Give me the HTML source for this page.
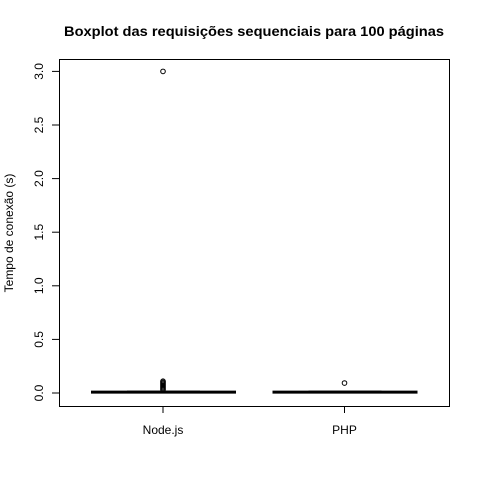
<!DOCTYPE html>
<html><head><meta charset="utf-8"><style>body{margin:0;background:#fff}svg{display:block;font-family:"Liberation Sans",sans-serif}</style></head>
<body>
<svg id="c" width="480" height="480">
<text x="254" y="36" text-anchor="middle" font-weight="bold" font-size="14" textLength="380" lengthAdjust="spacingAndGlyphs">Boxplot das requisições sequenciais para 100 páginas</text>
<rect x="59.5" y="59.5" width="390" height="347" fill="none" stroke="#000"/>
<text transform="translate(13,233) rotate(-90)" text-anchor="middle" font-size="12">Tempo de conexão (s)</text>
<g id="g"></g>
</svg>
<script>
const categories=["Node.js","PHP"];
const whiskLo=[0.0,0.0];
const q1=[0.005,0.005];
const median=[0.008,0.008];
const q3=[0.022,0.022];
const whiskHi=[0.01,0.01];
const outliers=[[3.0,0.11,0.10,0.09,0.08,0.07,0.06,0.05,0.04,0.03],[0.093]];
const yTicks=[0,0.5,1,1.5,2,2.5,3];
const yTickLabels=["0.0","0.5","1.0","1.5","2.0","2.5","3.0"];
const NS="http://www.w3.org/2000/svg",g=document.getElementById('g');
const y=v=>393-v*107.2;
const x=i=>163+i*181.5;
function mk(t,a){const e=document.createElementNS(NS,t);for(const k in a)e.setAttribute(k,a[k]);g.appendChild(e);return e;}
mk('line',{x1:59.5,x2:59.5,y1:y(0),y2:y(3),stroke:'#000'});
yTicks.forEach((v,i)=>{
 const t=mk('line',{x1:52,x2:59.5,y1:y(v),y2:y(v),stroke:'#000'});
 
 
 const l=mk('text',{transform:`translate(43,${y(v)}) rotate(-90)`,'text-anchor':'middle','font-size':12});
 l.textContent=yTickLabels[i];
 
 
});
categories.forEach((c,i)=>{
 const cx=x(i);
 const t=mk('line',{x1:cx,x2:cx,y1:406,y2:413,stroke:'#000'});
 
 
 const l=mk('text',{x:cx,y:434,'text-anchor':'middle','font-size':12});
 l.textContent=c;
 
 
 const w=mk('line',{x1:cx-72,x2:cx+73,y1:y(median[i]),y2:y(median[i]),stroke:'#000','stroke-width':3});
 
 
 const b=mk('rect',{x:cx-36,width:73,y:y(q3[i]),height:Math.max(1,y(q1[i])-y(q3[i])),fill:'#000'});
 
 
 outliers[i].forEach(v=>{
  const o=mk('circle',{cx:cx,cy:y(v),r:2.3,fill:'none',stroke:'#000'});
  
  
 });
});
</script>
</body></html>
